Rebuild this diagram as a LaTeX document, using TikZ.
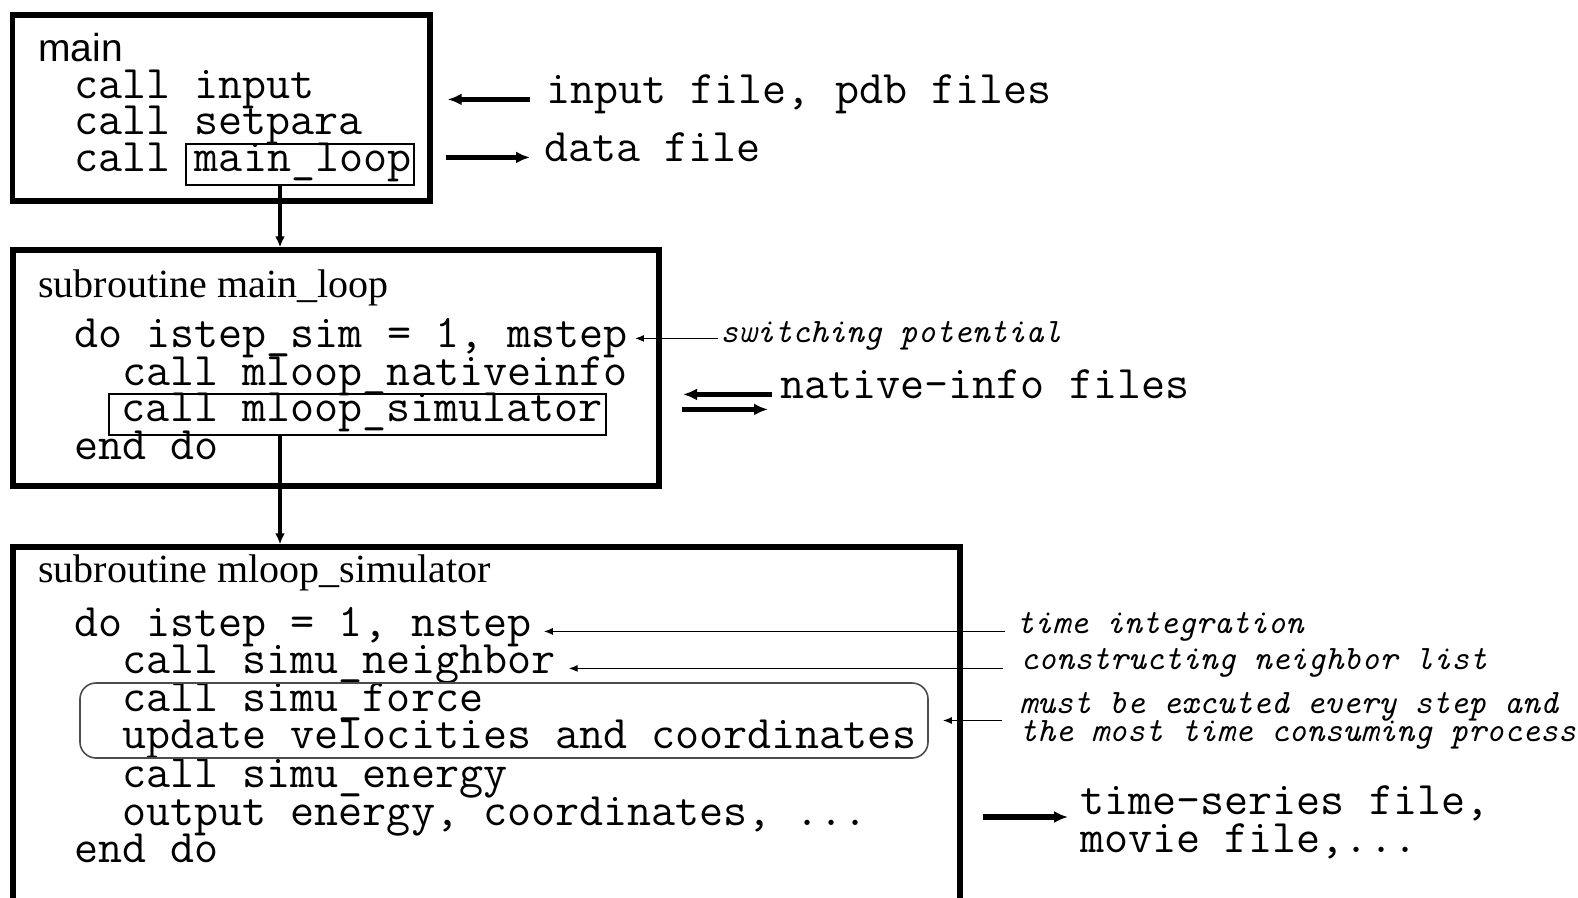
\documentclass[tikz,border=0pt]{standalone}
\usepackage{fontspec}
\setmainfont{Liberation Serif}
\setsansfont{Liberation Sans}
\usetikzlibrary{arrows.meta,fit,calc}

\tikzset{
  frame/.style={draw, line width=2.7pt, inner sep=0pt},
  callbox/.style={draw, line width=0.9pt, inner xsep=1.5pt, inner ysep=1.5pt, text height=12.5pt, text depth=5pt},
  roundframe/.style={draw=black!70, line width=0.8pt, rounded corners=8pt, inner sep=0pt},
  code/.style={anchor=base west, inner sep=0pt, font={\ttfamily\fontsize{23.35pt}{24pt}\selectfont}},
  note/.style={anchor=base west, inner sep=0pt, font={\ttfamily\itshape\fontsize{17.1pt}{18pt}\selectfont}},
  progname/.style={anchor=base west, inner sep=0pt, font={\sffamily\fontsize{19.5pt}{24pt}\selectfont}},
  subname/.style={anchor=base west, inner sep=0pt, font={\rmfamily\fontsize{20pt}{24pt}\selectfont}},
  link/.style={line width=1.8pt, -{Latex[length=5.5pt,width=5pt]}},
  flow/.style={line width=2.6pt, -{Latex[length=7pt,width=6pt]}},
  pointer/.style={line width=0.65pt, -{Latex[length=4.5pt,width=3.5pt]}},
}

\begin{document}
\begin{tikzpicture}[x=0.5pt, y=-0.5pt]
  \useasboundingbox (0,0) rectangle (1578,898);
  \clip (0,0) rectangle (1578,898);

  % the three routines
  \node[frame, fit={(12.5,15) (430,201)}] (mainframe) {};
  \node[frame, fit={(13,250) (659,486)}] (loopframe) {};
  \node[frame, fit={(13,547) (960,940)}] (simframe) {};
  \coordinate (spine) at (280,0);

  % main
  \node[progname] (main) at (38,62) {main};
  \node[code] (callinput) at (74,99) {call input};
  \node[code] (callsetpara) at (74,135) {call setpara};
  \node[code] (callloop) at (74,172) {call};
  \node[code, callbox] (loopbox) at (185,172) {\hspace{3pt}main\_loop};

  \node[code] (infiles) at (546,104) {input file, pdb files};
  \node[code] (datafile) at (544,162) {data file};
  \draw[flow, shorten <=8pt, shorten >=7.5pt] (infiles.mid west) -- (infiles.mid west -| mainframe.east);
  \draw[flow, shorten <=6.5pt, shorten >=7pt] (datafile.mid west -| mainframe.east) -- (datafile.mid west);

  \draw[link] (loopbox.south -| spine) -- (loopframe.north -| spine);

  % subroutine main_loop
  \node[subname] (loophead) at (38,298) {subroutine main\_loop};
  \node[code] (dosim) at (74,348) {do istep\_sim = 1, mstep};
  \node[code] (callnative) at (122,386) {call mloop\_nativeinfo};
  \node[code, callbox] (simbox) at (108,422) {\hspace{5pt}call mloop\_simulator};
  \node[code] (enddosim) at (74,459) {end do};

  \node[note] (switching) at (720,343) {switching potential};
  \draw[pointer, shorten <=1pt, shorten >=3.5pt] (switching.mid west) -- (switching.mid west -| dosim.east);

  \node[code] (nativefiles) at (780,399) {native-info files};
  \coordinate (nativein) at (nativefiles.mid west);
  \draw[flow] ($(nativein)+(-8,0)$) -- ($(nativein)+(-97,0)$);
  \draw[flow] ($(nativein)+(-98,15)$) -- ($(nativein)+(-12,15)$);

  \draw[link] (simbox.south -| spine) -- (simframe.north -| spine);

  % subroutine mloop_simulator
  \node[subname] (simhead) at (38,582) {subroutine mloop\_simulator};
  \node[code] (dostep) at (74,636) {do istep = 1, nstep};
  \node[code] (callneighbor) at (122,673) {call simu\_neighbor};
  \node[code] (callforce) at (122,711) {call simu\_force};
  \node[code] (update) at (122,748) {update velocities and coordinates};
  \node[code] (callenergy) at (122,787) {call simu\_energy};
  \node[code] (output) at (122,825) {output energy, coordinates, ...};
  \node[code] (enddostep) at (74,862) {end do};
  \node[roundframe, fit={(80,683) (928,758)}] (hotloop) {};

  \node[note] (timeint) at (1016,633) {time integration};
  \node[note] (neighlist) at (1020,669) {constructing neighbor list};
  \node[note] (mustrun) at (1019,713) {must be excuted every step and};
  \node[note] (costly) at (1019,741) {the most time consuming process};
  \draw[pointer, shorten <=5.5pt, shorten >=6pt] (dostep.mid east -| timeint.west) -- (dostep.mid east);
  \draw[pointer, shorten <=8.5pt, shorten >=6.5pt] (callneighbor.mid east -| neighlist.west) -- (callneighbor.mid east);
  \draw[pointer, shorten <=8.5pt, shorten >=7pt] (mustrun.west |- hotloop.east) -- (hotloop.east);

  \node[code] (series) at (1080,814) {time-series file,};
  \node[code] (movie) at (1080,852) {movie file,...};
  \coordinate (seriestail) at (series.base west -| simframe.east);
  \draw[flow, shorten >=6pt] ($(seriestail)+(20,3)$) -- ($(series.base west)+(0,3)$);
\end{tikzpicture}
\end{document}
